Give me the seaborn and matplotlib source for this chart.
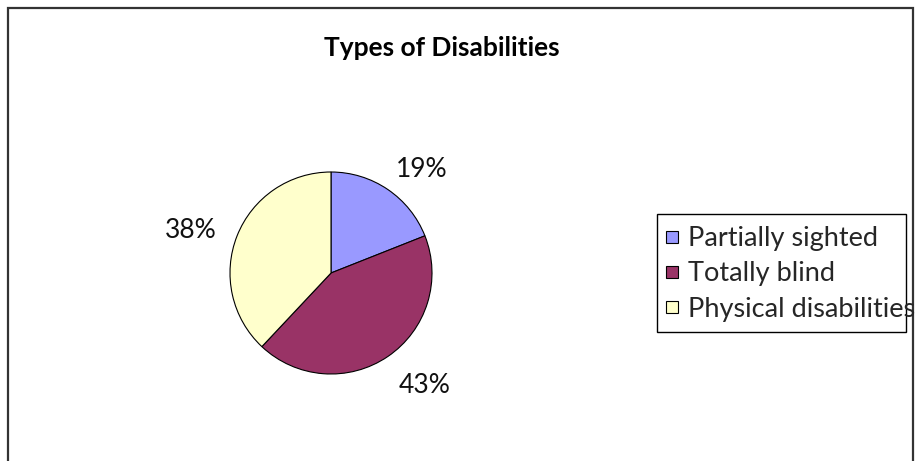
import matplotlib
matplotlib.use("Agg")
import numpy as np
import matplotlib.pyplot as plt
import seaborn as sns
from matplotlib.patches import Rectangle
from matplotlib.lines import Line2D

categories = ["Partially sighted", "Totally blind", "Physical disabilities"]
values = [19, 43, 38]
colors = ["#9999FF", "#993366", "#FFFFCC"]
title = "Types of Disabilities"

sns.set_theme(style="white")
plt.rcParams['font.family'] = ['Lato', 'DejaVu Sans']

W, H = 920, 461
fig = plt.figure(figsize=(W / 100, H / 100), dpi=100)

# outer chart frame (bottom edge lies outside the image)
fig.patches.append(Rectangle((8 / W, -0.2), (913 - 8) / W, 1.2 - 8 / H,
                             transform=fig.transFigure, fill=False,
                             edgecolor="#333333", linewidth=1.6))

cx, cy, r = 331, 273, 101
ax = fig.add_axes([(cx - r) / W, (H - cy - r) / H, 2 * r / W, 2 * r / H])
wedges, texts = ax.pie(
    values, colors=colors, startangle=90, counterclock=False,
    wedgeprops=dict(edgecolor="black", linewidth=0.8))
ax.set_xlim(-1, 1)
ax.set_ylim(-1, 1)
ax.set_aspect("equal")
ax.axis("off")

# percentage labels placed outside, anchored by the side nearest the pie
total = sum(values)
for w, v in zip(wedges, values):
    mid = np.deg2rad((w.theta1 + w.theta2) / 2)
    c, s = np.cos(mid), np.sin(mid)
    if abs(c) > 0.85:
        d, va = 1.22, "center_baseline"
    elif s > 0:
        d, va = 1.15, "baseline"
    else:
        d, va = 1.2, "top"
    ax.text(d * c, d * s, f"{round(100 * v / total)}%",
            ha="left" if c > 0 else "right", va=va,
            fontsize=19, color="#111111", clip_on=False)

fig.text(442 / W, 1 - 48 / H, title, ha="center", va="center",
         fontsize=19, fontweight="bold", color="black")

# legend box
fig.patches.append(Rectangle((657 / W, 1 - 332 / H), (906 - 657) / W, (332 - 214) / H,
                             transform=fig.transFigure, fill=False,
                             edgecolor="black", linewidth=1.0))
handles = [Line2D([], [], marker="s", linestyle="none", markersize=9,
                  markerfacecolor=c, markeredgecolor="black", markeredgewidth=0.8)
           for c in colors]
leg = fig.legend(handles, categories, loc="upper left",
                 bbox_to_anchor=(664 / W, 1 - 226 / H), frameon=False,
                 fontsize=19.5, handlelength=0.6, handletextpad=0.3,
                 labelspacing=0.38, borderpad=0, borderaxespad=0)

fig.savefig("out.png", dpi=100)
